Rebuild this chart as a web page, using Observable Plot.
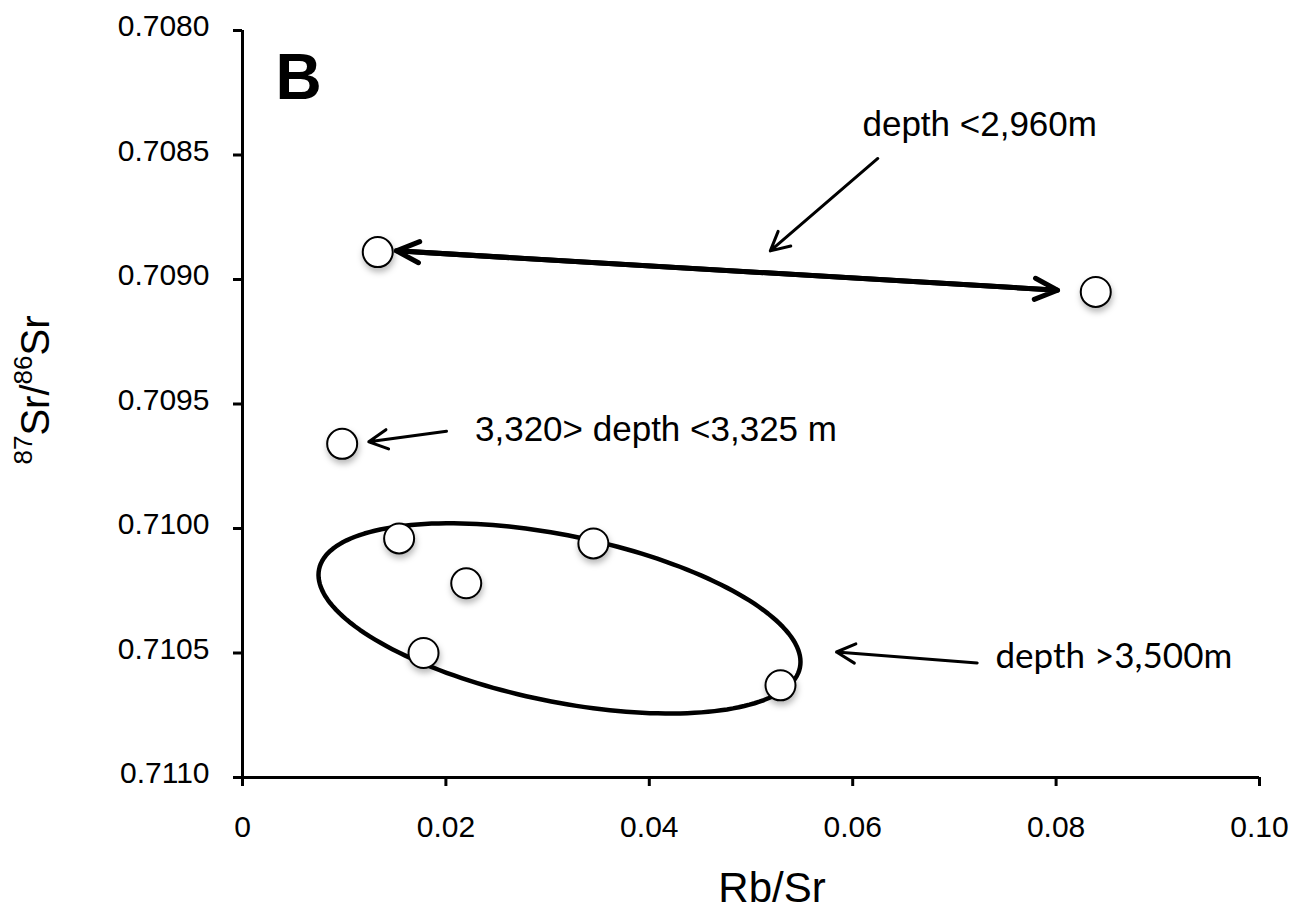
<!DOCTYPE html>
<html><head><meta charset="utf-8">
<script src="https://cdn.jsdelivr.net/npm/d3@7"></script>
<script src="https://cdn.jsdelivr.net/npm/@observablehq/plot@0.6"></script>
<style>body{margin:0;background:#fff}</style>
</head><body><div id="chart"></div>
<script>
// Data: Rb/Sr vs 87Sr/86Sr
const rbSr = [0.0133, 0.0839, 0.0098, 0.0154, 0.0345, 0.0220, 0.0178, 0.0529];
const srRatio = [0.70889, 0.70905, 0.70966, 0.71004, 0.71006, 0.71022, 0.71050, 0.71063];

const xTicks = [0, 0.02, 0.04, 0.06, 0.08, 0.10];
const xTickLabels = ["0", "0.02", "0.04", "0.06", "0.08", "0.10"];
const yTicks = [0.7080, 0.7085, 0.7090, 0.7095, 0.7100, 0.7105, 0.7110];
const yTickLabels = ["0.7080", "0.7085", "0.7090", "0.7095", "0.7100", "0.7105", "0.7110"];

// Ellipse around the deep group (data units): centre, major half-axis vector, minor half-axis vector
const ellipseCenter = [0.03117, 0.710361];
const ellipseMajor = [0.02364, 0.0001975];
const ellipseMinor = [-0.001632, 0.000327];

// Double-headed arrow between the two shallow samples (tips)
const doubleArrowX = [0.01514, 0.08014];
const doubleArrowY = [0.708885, 0.709043];

// Pointer arrows (start -> tip)
const pointerX1 = [0.06247, 0.02006, 0.07224];
const pointerY1 = [0.708514, 0.709609, 0.710540];
const pointerX2 = [0.05190, 0.01242, 0.05841];
const pointerY2 = [0.708885, 0.709652, 0.710496];

// Annotation labels (baseline-left anchor)
const labelText = ["depth <2,960m", "3,320> depth <3,325 m", "depth >3,500m"];
const labelX = [0.06096, 0.02286, 0.07404];
const labelY = [0.708422, 0.709649, 0.710560];

const points = rbSr.map((x, i) => ({x, y: srRatio[i]}));
const ellipse = d3.range(0, 181).map(k => {
  const t = k / 180 * 2 * Math.PI;
  return {
    x: ellipseCenter[0] + ellipseMajor[0] * Math.cos(t) + ellipseMinor[0] * Math.sin(t),
    y: ellipseCenter[1] + ellipseMajor[1] * Math.cos(t) + ellipseMinor[1] * Math.sin(t)
  };
});
const pointers = pointerX1.map((x1, i) => ({x1, y1: pointerY1[i], x2: pointerX2[i], y2: pointerY2[i]}));
const dbl = [
  {x1: doubleArrowX[0], y1: doubleArrowY[0], x2: doubleArrowX[1], y2: doubleArrowY[1]},
  {x1: doubleArrowX[1], y1: doubleArrowY[1], x2: doubleArrowX[0], y2: doubleArrowY[0]}
];
const labels = labelText.map((t, i) => ({t, x: labelX[i], y: labelY[i]}));

const fmtX = d => xTickLabels[xTicks.findIndex(v => Math.abs(v - d) < 1e-9)];
const fmtY = d => yTickLabels[yTicks.findIndex(v => Math.abs(v - d) < 1e-9)];

const plot = Plot.plot({
  width: 1289, height: 910,
  marginLeft: 242, marginRight: 30, marginTop: 30, marginBottom: 133,
  style: {background: "white", fontFamily: "'Liberation Sans', Arial, sans-serif", fontSize: "30px", color: "black", overflow: "visible"},
  x: {domain: [0, 0.1]},
  y: {domain: [0.708, 0.711], reverse: true},
  marks: [
    Plot.axisX({ticks: xTicks, tickFormat: fmtX, tickSize: 9, tickPadding: 29, strokeWidth: 3, label: null}),
    Plot.axisY({ticks: yTicks, tickSize: 9, strokeWidth: 3, text: null, label: null}),
    Plot.axisY({ticks: yTicks, tickFormat: fmtY, tickSize: 0, tickPadding: 33, dy: -4, label: null}),
    Plot.ruleX([0], {strokeWidth: 3, stroke: "black"}),
    Plot.ruleY([0.711], {strokeWidth: 3, stroke: "black"}),
    Plot.line(ellipse, {x: "x", y: "y", stroke: "black", strokeWidth: 4.5}),
    Plot.arrow(dbl, {x1: "x1", y1: "y1", x2: "x2", y2: "y2", stroke: "black", strokeWidth: 5, headLength: 7.5, headAngle: 50, strokeLinecap: "round", strokeLinejoin: "round"}),
    Plot.arrow(pointers, {x1: "x1", y1: "y1", x2: "x2", y2: "y2", stroke: "black", strokeWidth: 3, headLength: 10.5, headAngle: 55, strokeLinecap: "round", strokeLinejoin: "round"}),
    Plot.dot(points, {x: "x", y: "y", r: 15, fill: "white", stroke: "black", strokeWidth: 2}),
    Plot.text(labels.slice(0, 2), {x: "x", y: "y", text: "t", textAnchor: "start", lineAnchor: "bottom", fontSize: 35, fill: "black"}),
    Plot.text(labels.slice(2), {x: "x", y: "y", text: "t", textAnchor: "start", lineAnchor: "bottom", fontSize: 35, fontFamily: "Lato, 'Open Sans', sans-serif", fill: "black"}),
    Plot.text(["B"], {frameAnchor: "top-left", dx: 33, dy: 23, textAnchor: "start", lineAnchor: "top", fontSize: 64, fontWeight: "bold", fill: "black"}),
    Plot.text(["Rb/Sr"], {frameAnchor: "bottom", dx: 21, dy: 124, textAnchor: "middle", lineAnchor: "bottom", fontSize: 42, fill: "black"})
  ]
});

const svg = d3.select(plot.tagName.toLowerCase() === "svg" ? plot : plot.querySelector("svg"));
svg.selectAll("g[aria-label=dot] circle").style("filter", "drop-shadow(1px 4px 3px rgba(0,0,0,0.28))");

// Y-axis title with superscripts
const yt = svg.append("text")
  .attr("transform", "translate(49,390) rotate(-90)")
  .attr("text-anchor", "middle")
  .attr("fill", "black")
  .style("font-family", "'Liberation Sans', Arial, sans-serif");
yt.append("tspan").attr("font-size", 26).attr("dy", -17).text("87");
yt.append("tspan").attr("font-size", 40).attr("dy", 17).text("Sr/");
yt.append("tspan").attr("font-size", 26).attr("dy", -17).text("86");
yt.append("tspan").attr("font-size", 40).attr("dy", 17).text("Sr");

document.getElementById("chart").appendChild(plot);
</script>
</body></html>
